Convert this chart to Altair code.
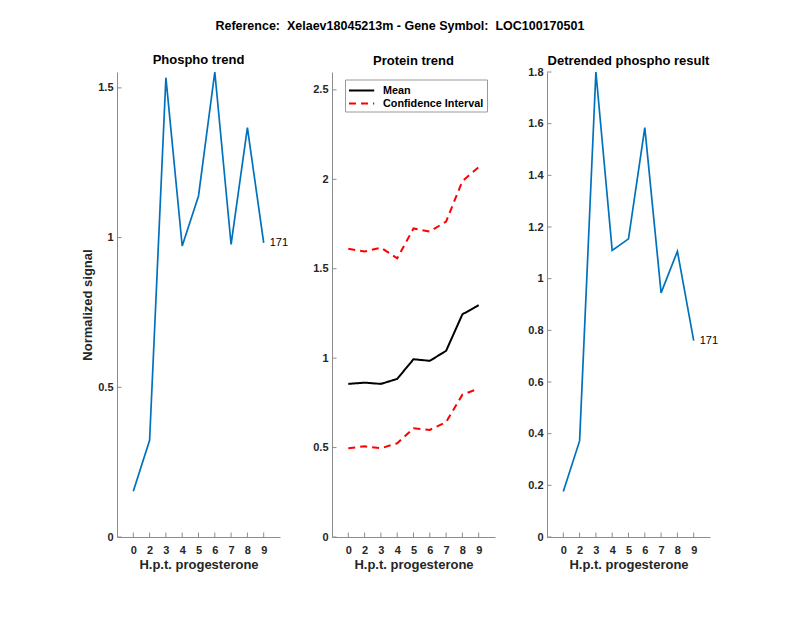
import altair as alt
import pandas as pd

# ---------------- data ----------------
hours = ["0", "2", "3", "4", "5", "6", "7", "8", "9"]
phospho = [0.153, 0.323, 1.534, 0.972, 1.139, 1.553, 0.977, 1.367, 0.982]
protein_mean = [0.856, 0.863, 0.856, 0.884, 0.994, 0.985, 1.041, 1.245, 1.296]
protein_upper = [1.612, 1.596, 1.618, 1.558, 1.725, 1.708, 1.764, 1.990, 2.068]
protein_lower = [0.496, 0.507, 0.496, 0.524, 0.608, 0.599, 0.642, 0.796, 0.830]
detrended = [0.176, 0.372, 1.800, 1.109, 1.154, 1.585, 0.945, 1.106, 0.760]
peptide_label = "171"

yticks1 = [0, 0.5, 1, 1.5]
yticks2 = [0, 0.5, 1, 1.5, 2, 2.5]
yticks3 = [0, 0.2, 0.4, 0.6, 0.8, 1.0, 1.2, 1.4, 1.6, 1.8]
ydom1 = [0, 1.553]
ydom2 = [0, 2.6]
ydom3 = [0, 1.8]

suptitle = "Reference:\u00a0 Xelaev18045213m - Gene Symbol:\u00a0 LOC100170501"
titles = ["Phospho trend", "Protein trend", "Detrended phospho result"]
xtitle = "H.p.t. progesterone"
ytitle = "Normalized signal"

FONT = "Liberation Sans"
TXT = "#262626"
AX = "#8c8c8c"
BLUE = "#0072BD"
W, H = 163, 465
TICK = 4.5

def xenc():
    return alt.X("h:O", sort=hours,
                 scale=alt.Scale(type="point", padding=1),
                 axis=alt.Axis(title=xtitle, labelAngle=0, labelPadding=7,
                               titlePadding=3, grid=False))

def yenc(dom, ticks, title=None):
    return alt.Y("v:Q", scale=alt.Scale(domain=dom, nice=False, zero=True),
                 axis=alt.Axis(title=title, values=ticks, format="~g", grid=False,
                               labelPadding=4, titlePadding=3))

def tick_layers(ticks):
    xt = alt.Chart(pd.DataFrame({"h": hours})).mark_rule(color=AX, strokeWidth=1).encode(
        x=alt.X("h:O", sort=hours), y=alt.value(H), y2=alt.value(H - TICK))
    yt = alt.Chart(pd.DataFrame({"v": ticks})).mark_rule(color=AX, strokeWidth=1).encode(
        y=alt.Y("v:Q"), x=alt.value(0), x2=alt.value(TICK))
    return [xt, yt]

def ptitle(t, off):
    return alt.TitleParams(t, font=FONT, fontSize=13, fontWeight="bold",
                           color="black", offset=off)

def single_panel(values, dom, ticks, title, off, ytitle_=None):
    df = pd.DataFrame({"h": hours, "v": values})
    line = alt.Chart(df).mark_line(color=BLUE, strokeWidth=1.7).encode(
        x=xenc(), y=yenc(dom, ticks, ytitle_))
    lab = alt.Chart(df.tail(1).assign(t=peptide_label)).mark_text(
        align="left", baseline="middle", dx=6, font=FONT, fontSize=11,
        color="black").encode(x=alt.X("h:O", sort=hours), y=alt.Y("v:Q"), text="t:N")
    return alt.layer(line, lab, *tick_layers(ticks)).properties(
        width=W, height=H, title=ptitle(title, off))

p1 = single_panel(phospho, ydom1, yticks1, titles[0], 1.5, ytitle)
p3 = single_panel(detrended, ydom3, yticks3, titles[2], -1.8)

rows = []
for name, series, vals in [("mean", "Mean", protein_mean),
                           ("upper", "Confidence Interval", protein_upper),
                           ("lower", "Confidence Interval", protein_lower)]:
    for h, v in zip(hours, vals):
        rows.append({"h": h, "v": v, "series": series, "part": name})
df2 = pd.DataFrame(rows)

leg = dict(title=None, orient="none", legendX=13, legendY=7.5,
           symbolType="M-1,0H2.6", symbolSize=196, symbolStrokeWidth=2,
           labelFont=FONT, labelFontSize=10.8, labelFontWeight="bold",
           labelColor="black", labelOffset=19, rowPadding=0, padding=3,
           fillColor="white", strokeColor="#9a9a9a", cornerRadius=0)
sdom = ["Mean", "Confidence Interval"]
line2 = alt.Chart(df2).mark_line(strokeWidth=2).encode(
    x=xenc(), y=yenc(ydom2, yticks2),
    color=alt.Color("series:N", scale=alt.Scale(domain=sdom, range=["black", "red"]),
                    legend=alt.Legend(**leg)),
    strokeDash=alt.StrokeDash("series:N",
                              scale=alt.Scale(domain=sdom, range=[[1, 0], [7, 5]]),
                              legend=alt.Legend(**leg)),
    detail="part:N")
p2 = alt.layer(line2, *tick_layers(yticks2)).properties(
    width=W, height=H, title=ptitle(titles[1], 4.5))

chart = alt.hconcat(p1, p2, p3, spacing=52, bounds="flush").resolve_scale(
    y="independent", color="independent", strokeDash="independent").properties(
    title=alt.TitleParams(suptitle, font=FONT, fontSize=12.5, fontWeight="bold",
                          color="black", offset=22, anchor="middle"),
    padding={"left": 73, "top": 11, "right": 10, "bottom": 10},
    background="white",
).configure_view(stroke=None).configure_axis(
    grid=False, ticks=False, tickSize=0, domainColor=AX, domainWidth=1,
    labelFont=FONT, labelFontSize=11, labelFontWeight="bold", labelColor=TXT,
    titleFont=FONT, titleFontSize=13, titleFontWeight="bold", titleColor=TXT,
)

chart.save("out.html", embed_options={"renderer": "svg", "actions": False})
